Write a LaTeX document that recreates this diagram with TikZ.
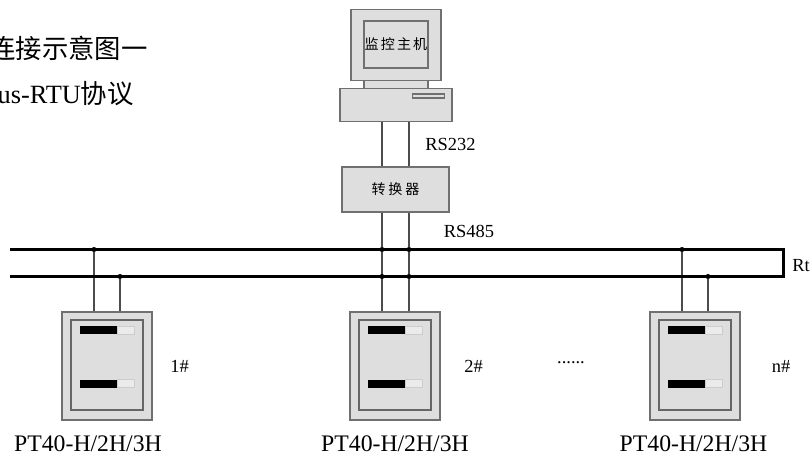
\documentclass[tikz,border=0pt]{standalone}
\usepackage{fontspec}
\usepackage{xcolor}
\setmainfont{Liberation Serif}
\newfontfamily\cjk{Noto Sans CJK SC}
\definecolor{boxfill}{HTML}{DEDEDE}
\definecolor{boxedge}{HTML}{707070}
\usetikzlibrary{positioning,backgrounds}
\tikzset{
    box/.style={draw=boxedge,fill=boxfill,line width=0.7pt,inner sep=0pt,outer sep=0pt},
    wire/.style={draw=black!70,line width=1pt},
    bus/.style={draw=black,line width=1.7pt,line join=miter},
    tap/.style={circle,fill=black,inner sep=0pt,minimum size=0.1cm},
    darkbar/.style={fill=black,inner sep=0pt,outer sep=0pt,minimum width=0.74cm,minimum height=0.16cm},
    lightbar/.style={draw=black!20,fill=boxfill!60,line width=0.4pt,inner sep=0pt,outer sep=0pt,minimum width=0.34cm,minimum height=0.16cm},
    lbl/.style={font=\fontsize{10.5pt}{12pt}\selectfont,inner sep=0pt},
    model/.style={font=\fontsize{13.5pt}{15pt}\selectfont,inner sep=0pt},
    note/.style={font=\fontsize{15pt}{17pt}\selectfont,inner sep=0pt},
}
\begin{document}
\begin{tikzpicture}[x=0.02cm,y=-0.02cm]
    \useasboundingbox (0,0) rectangle (810,455);
    \node[note,anchor=east] (title) at (148,48) {\cjk\fontsize{15pt}{17pt}\selectfont 连接示意图一};
    \node[note,anchor=east] (proto) at (134,94) {us-RTU{\cjk 协议}};

    \node[box,minimum width=1.28cm,minimum height=0.18cm] (neck) at (396,84) {};
    \node[box,minimum width=1.8cm,minimum height=1.42cm] (monitor) at (396,45) {};
    \node[box,minimum width=1.28cm,minimum height=0.94cm,font=\cjk\fontsize{8pt}{10pt}\selectfont] (screen) at (396,44.5)
        {监\hspace{1.2pt}控\hspace{1.2pt}主\hspace{1.2pt}机};
    \node[box,minimum width=2.24cm,minimum height=0.65cm] (base) at (396,105) {};
    \node[box,minimum width=0.65cm,minimum height=0.08cm] (slot) at (428.5,96) {};
    \node[box,minimum width=2.14cm,minimum height=0.9cm,font=\cjk\fontsize{8pt}{10pt}\selectfont] (conv) at (395.5,189.5)
        {转\hspace{1.6pt}换\hspace{1.6pt}器};

    \coordinate (busa) at (10,249.5);
    \coordinate (busb) at (10,276.5);
    \coordinate (busc) at (783.5,249.5);
    \coordinate (busd) at (783.5,276.5);
    \draw[bus] (busa) -- (busc) -- (busd) -- (busb);

    \foreach \n/\x/\ax/\bx/\lx/\tx/\lab in {1/107/94/120/179.5/88/1\#,2/395/382/409/473.5/395/2\#,n/695/682/708/781/693.5/n\#}{
        \node[box,minimum width=1.8cm,minimum height=2.16cm] (m\n) at (\x,366) {};
        \node[box,draw=black!60,line width=1pt,minimum width=1.44cm,minimum height=1.8cm] (in\n) at (\x,365) {};
        \node[darkbar] (upa\n) at ({\x-8.5},330) {};
        \node[lightbar,right=0pt of upa\n] (upb\n) {};
        \node[darkbar] (loa\n) at ({\x-8.5},383.5) {};
        \node[lightbar,right=0pt of loa\n] (lob\n) {};
        \coordinate (m\n a) at (\ax,312);
        \coordinate (m\n b) at (\bx,312);
        \node[tap] (t\n a) at (\ax,249.5) {};
        \node[tap] (t\n b) at (\bx,276.5) {};
        \begin{pgfonlayer}{background}
            \draw[wire] (t\n a) -- (m\n a);
            \draw[wire] (t\n b) -- (m\n b);
        \end{pgfonlayer}
        \node[lbl] (num\n) at (\lx,366) {\lab};
        \node[model] (type\n) at (\tx,443.5) {PT40-H/2H/3H};
    }
    \node[tap] (t2c) at (m2a |- busb) {};
    \node[tap] (t2d) at (m2b |- busa) {};
    \begin{pgfonlayer}{background}
        \draw[wire] (base.south -| m2a) -- (conv.north -| m2a);
        \draw[wire] (base.south -| m2b) -- (conv.north -| m2b);
        \draw[wire] (conv.south -| m2a) -- (t2a);
        \draw[wire] (conv.south -| m2b) -- (t2d);
        \draw[wire] (t2d) -- (t2b);
    \end{pgfonlayer}

    \node[lbl] (rsa) at (450.5,144) {RS232};
    \node[lbl] (rsb) at (469,231) {RS485};
    \node[lbl,anchor=west] (rt) at (792,266) {Rt};
    \node[lbl] (dots) at (571,363) {......};
\end{tikzpicture}
\end{document}
